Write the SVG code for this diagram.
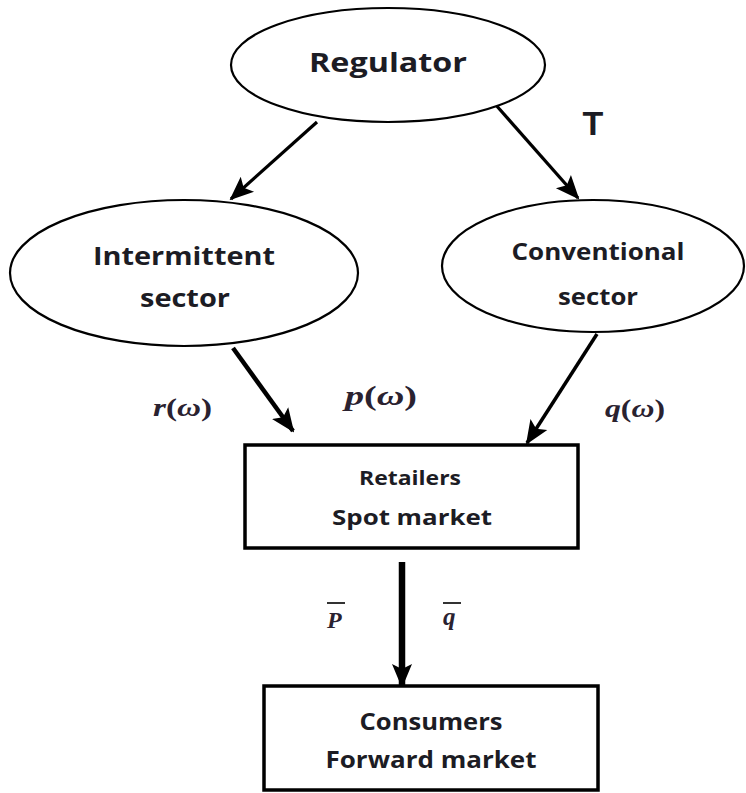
<svg xmlns="http://www.w3.org/2000/svg" width="746" height="793" viewBox="0 0 746 793">
<defs>
<marker id="ah" markerUnits="userSpaceOnUse" markerWidth="24" markerHeight="24" viewBox="0 0 24 24" refX="22" refY="12" orient="auto">
<path d="M0,2 L24,12 L0,22 L5,12 Z" fill="#000"/>
</marker>
<style>
.node{fill:#fff;stroke:#000;stroke-width:2.2}
.box{fill:#fff;stroke:#000;stroke-width:3.5}
.lbl{font-family:"Open Sans","Liberation Sans",sans-serif;font-weight:700;fill:#1c1c24;text-anchor:middle}
.math{font-family:"Liberation Serif","DejaVu Serif",serif;font-weight:700;fill:#2a2230}
.it{font-style:italic}
.edge{stroke:#000;fill:none;marker-end:url(#ah)}
</style>
</defs>
<rect width="746" height="793" fill="#fff"/>
<g id="connectors">
<line class="edge" x1="317" y1="122" x2="231" y2="199" stroke-width="3.2"/>
<line class="edge" x1="495" y1="104" x2="578" y2="198" stroke-width="3.2"/>
<line class="edge" x1="233" y1="348" x2="293" y2="431" stroke-width="4.5"/>
<line class="edge" x1="597" y1="334" x2="527" y2="443" stroke-width="3.5"/>
<line class="edge" x1="402" y1="562" x2="402" y2="686" stroke-width="6.5"/>
</g>
<g id="regulator">
<ellipse class="node" cx="388" cy="65" rx="157" ry="57"/>
<text class="lbl" x="388" y="72" font-size="27" textLength="158" lengthAdjust="spacingAndGlyphs">Regulator</text>
</g>
<g id="intermittent">
<ellipse class="node" cx="184" cy="273" rx="174" ry="73"/>
<text class="lbl" x="184" y="265" font-size="25" textLength="182" lengthAdjust="spacingAndGlyphs">Intermittent</text>
<text class="lbl" x="185" y="307" font-size="25" textLength="90" lengthAdjust="spacingAndGlyphs">sector</text>
</g>
<g id="conventional">
<ellipse class="node" cx="593" cy="266" rx="151" ry="66"/>
<text class="lbl" x="598" y="260" font-size="23" textLength="173" lengthAdjust="spacingAndGlyphs">Conventional</text>
<text class="lbl" x="598" y="305" font-size="23" textLength="80" lengthAdjust="spacingAndGlyphs">sector</text>
</g>
<g id="retailers">
<rect class="box" x="245" y="445" width="333" height="103"/>
<text class="lbl" x="410" y="485" font-size="20" textLength="102" lengthAdjust="spacingAndGlyphs">Retailers</text>
<text class="lbl" x="412" y="525" font-size="22" textLength="160" lengthAdjust="spacingAndGlyphs">Spot market</text>
</g>
<g id="consumers">
<rect class="box" x="264" y="686" width="334" height="104"/>
<text class="lbl" x="431" y="730" font-size="24" textLength="143" lengthAdjust="spacingAndGlyphs">Consumers</text>
<text class="lbl" x="431" y="768" font-size="24" textLength="211" lengthAdjust="spacingAndGlyphs">Forward market</text>
</g>
<g id="labels">
<text class="lbl" x="593" y="135" font-size="34" style="font-family:'Liberation Sans',sans-serif">T</text>
<text class="math" x="153" y="416" font-size="26" textLength="59" lengthAdjust="spacingAndGlyphs"><tspan class="it">r</tspan>(<tspan class="it">ω</tspan>)</text>
<text class="math" x="345" y="405" font-size="28" textLength="72" lengthAdjust="spacingAndGlyphs"><tspan class="it">p</tspan>(<tspan class="it">ω</tspan>)</text>
<text class="math" x="605" y="417" font-size="26" textLength="60" lengthAdjust="spacingAndGlyphs"><tspan class="it">q</tspan>(<tspan class="it">ω</tspan>)</text>
<text class="math it" x="327" y="628" font-size="24">P</text>
<line x1="327" y1="603" x2="345" y2="603" stroke="#333" stroke-width="2"/>
<text class="math it" x="443" y="625" font-size="25">q</text>
<line x1="443" y1="603" x2="461" y2="603" stroke="#333" stroke-width="2"/>
</g>
</svg>
